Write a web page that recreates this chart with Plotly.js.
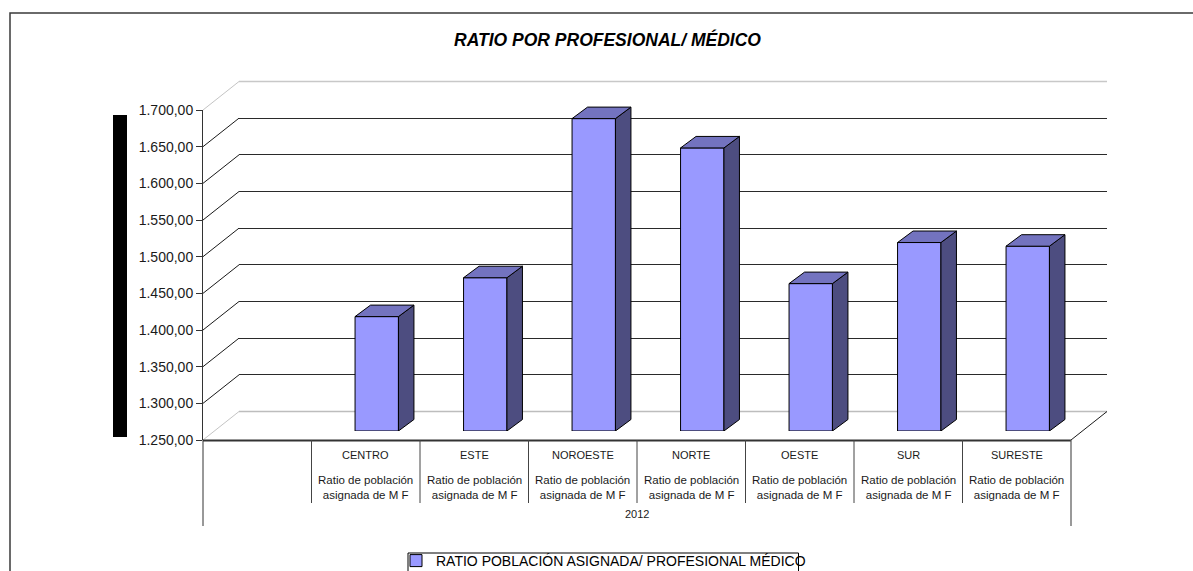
<!DOCTYPE html>
<html>
<head>
<meta charset="utf-8">
<script src="https://cdn.plot.ly/plotly-3.0.1.min.js"></script>
<style>
html,body{margin:0;padding:0;background:#fff;}
#chart{width:1193px;height:571px;}
</style>
</head>
<body>
<div id="chart"></div>
<script>
// ---- data ----
const categories = ['CENTRO', 'ESTE', 'NOROESTE', 'NORTE', 'OESTE', 'SUR', 'SURESTE'];
const ratioValues = [1406, 1459, 1676, 1636, 1451, 1507, 1502];
const subLabel = 'Ratio de población<br>asignada de M F';
const groupLabel = '2012';
const seriesName = 'RATIO POBLACIÓN ASIGNADA/ PROFESIONAL MÉDICO';
const chartTitle = 'RATIO POR PROFESIONAL/ MÉDICO';
const yTicks = [1250, 1300, 1350, 1400, 1450, 1500, 1550, 1600, 1650, 1700];

// ---- geometry (pixels) ----
const W = 1193, H = 571;
const px = x => x / W;
const py = y => 1 - y / H;
const FX0 = 203, FX1 = 1071, FYB = 440, FYT = 110;   // front plane
const DX = 36, DY = 28.5;                            // back wall offset
const BX = 11, BY = 9;                               // bar front-plane offset
const YMIN = 1250, YMAX = 1700;
const nSlots = categories.length + 1;                // first slot is empty
const slotW = (FX1 - FX0) / nSlots;
const unitPx = (FYB - FYT) / (YMAX - YMIN);
const yF = v => FYB - (v - YMIN) * unitPx;           // front plane pixel (decorations)
const barDepthX = 15.5 / slotW;                      // in category units
const barDepthY = 11.5 / unitPx;                     // in value units
const halfW = 0.2;

const xIdx = categories.map((c, i) => i + 1);

// ---- traces ----
const frontBars = {
  type: 'bar', name: seriesName,
  x: xIdx, y: ratioValues.map(v => v - YMIN), base: YMIN,
  width: 2 * halfW,
  xaxis: 'x3', yaxis: 'y3',
  marker: {color: '#9999ff', line: {color: '#000', width: 1}},
  showlegend: true, hoverinfo: 'skip'
};
const sx = [], sy = [], tx = [], ty = [];
xIdx.forEach((c, i) => {
  const v = ratioValues[i];
  const r = c + halfW, l = c - halfW;
  sx.push(r, r + barDepthX, r + barDepthX, r, r, null);
  sy.push(YMIN, YMIN + barDepthY, v + barDepthY, v, YMIN, null);
  tx.push(l, r, r + barDepthX, l + barDepthX, l, null);
  ty.push(v, v, v + barDepthY, v + barDepthY, v, null);
});
const sideFaces = {
  type: 'scatter', mode: 'lines', x: sx, y: sy, fill: 'toself',
  fillcolor: '#4d4d80', line: {color: '#000', width: 1},
  xaxis: 'x3', yaxis: 'y3', showlegend: false, hoverinfo: 'skip'
};
const topFaces = {
  type: 'scatter', mode: 'lines', x: tx, y: ty, fill: 'toself',
  fillcolor: '#7373bf', line: {color: '#000', width: 1},
  xaxis: 'x3', yaxis: 'y3', showlegend: false, hoverinfo: 'skip'
};
const frontAxisHolder = {
  type: 'scatter', mode: 'markers', x: [null], y: [null],
  xaxis: 'x', yaxis: 'y', showlegend: false, hoverinfo: 'skip'
};
const backAxisHolder = {
  type: 'scatter', mode: 'markers', x: [null], y: [null],
  xaxis: 'x2', yaxis: 'y2', showlegend: false, hoverinfo: 'skip'
};

// ---- decorations ----
const shapes = [];
const line = (x0, y0, x1, y1, color, width, layer) => shapes.push({
  type: 'line', xref: 'paper', yref: 'paper', layer: layer || 'below',
  x0: px(x0), y0: py(y0), x1: px(x1), y1: py(y1),
  line: {color: color, width: width || 1}
});
// outer chart border
shapes.push({type: 'rect', xref: 'paper', yref: 'paper', layer: 'below',
  x0: px(10), y0: py(13), x1: px(1210), y1: py(600),
  line: {color: '#3a3a3a', width: 1.5}, fillcolor: 'rgba(0,0,0,0)'});
// black bar at left (axis title block)
shapes.push({type: 'rect', xref: 'paper', yref: 'paper', layer: 'below',
  x0: px(113), y0: py(115), x1: px(127), y1: py(437),
  line: {width: 0}, fillcolor: '#000'});
// legend frame (open at the bottom edge of the picture)
line(408, 553, 798.5, 553, '#000', 1, 'above');
line(408, 553, 408, 575, '#000', 1, 'above');
line(798.5, 553, 798.5, 575, '#000', 1, 'above');
// side wall diagonals
yTicks.forEach(v => {
  const edge = (v === YMIN || v === YMAX);
  line(FX0, yF(v), FX0 + DX, yF(v) - DY, edge ? '#c4c4c4' : '#1a1a1a', 1);
});
// back wall edge lines (top & floor)
line(FX0 + DX, yF(YMAX) - DY, FX1 + DX, yF(YMAX) - DY, '#c8c8c8', 1.5);
line(FX0 + DX, yF(YMIN) - DY, FX1 + DX, yF(YMIN) - DY, '#bdbdbd', 1.5);
// floor front edge and right diagonal
line(FX0, FYB + 0.5, FX1, FYB + 0.5, '#333', 2);
line(FX1, FYB, FX1 + DX, FYB - DY, '#1a1a1a', 1);
// table lines
line(FX0, FYB, FX0, 526, '#333', 1);
line(FX1, FYB, FX1, 526, '#555', 1.2);
for (let k = 1; k < nSlots; k++) {
  line(FX0 + k * slotW, FYB, FX0 + k * slotW, 503, '#444', 1);
}

// ---- annotations ----
const annotations = [];
const font = {family: 'Liberation Sans, Arial, sans-serif', color: '#1a1a1a'};
categories.forEach((c, i) => {
  annotations.push({xref: 'x', yref: 'paper', x: xIdx[i], y: py(455),
    text: c, showarrow: false, xanchor: 'center', yanchor: 'middle',
    font: Object.assign({size: 11}, font)});
  annotations.push({xref: 'x', yref: 'paper', x: xIdx[i], y: py(487),
    text: subLabel, showarrow: false, xanchor: 'center', yanchor: 'middle',
    font: Object.assign({size: 11.5}, font)});
});
annotations.push({xref: 'x', yref: 'paper', x: (nSlots - 1) / 2, y: py(513.5),
  text: groupLabel, showarrow: false, xanchor: 'center', yanchor: 'middle',
  font: Object.assign({size: 11}, font)});

const layout = {
  width: W, height: H,
  margin: {l: 0, r: 0, t: 0, b: 0, pad: 0, autoexpand: false},
  paper_bgcolor: '#fff', plot_bgcolor: 'rgba(0,0,0,0)',
  separators: ',.',
  font: {family: 'Liberation Sans, Arial, sans-serif', color: '#1a1a1a'},
  title: {text: '<b><i>' + chartTitle + '</i></b>', x: px(607.5), y: py(39.5),
    xref: 'container', yref: 'container', xanchor: 'center', yanchor: 'middle',
    font: {size: 17.5, family: 'Liberation Sans, Arial, sans-serif', color: '#000'}},
  showlegend: true,
  legend: {x: px(396), y: py(545), xanchor: 'left', yanchor: 'top',
    orientation: 'h', borderwidth: 0, bgcolor: 'rgba(255,255,255,0)',
    font: {size: 14, family: 'Liberation Sans, Arial, sans-serif', color: '#000'}},
  xaxis: {domain: [px(FX0), px(FX1)], range: [-0.5, nSlots - 0.5], anchor: 'y',
    showticklabels: false, ticks: '', showline: false, showgrid: false, zeroline: false, fixedrange: true},
  yaxis: {domain: [py(FYB), py(FYT)], range: [YMIN, YMAX], anchor: 'x',
    tickvals: yTicks, tickformat: ',.2f', ticks: 'outside', ticklen: 6, tickcolor: '#333',
    showline: true, linecolor: '#333', linewidth: 1, showgrid: false, zeroline: false,
    tickfont: {size: 14, family: 'Liberation Sans, Arial, sans-serif', color: '#1a1a1a'}, fixedrange: true},
  xaxis2: {domain: [px(FX0 + DX), px(FX1 + DX)], range: [-0.5, nSlots - 0.5], anchor: 'y2',
    visible: false, fixedrange: true},
  yaxis2: {domain: [py(FYB - DY), py(FYT - DY)], range: [YMIN, YMAX], anchor: 'x2',
    tickvals: yTicks.slice(1, -1), showticklabels: false, ticks: '', showline: false,
    showgrid: true, gridcolor: '#2a2a2a', gridwidth: 1, zeroline: false, fixedrange: true},
  xaxis3: {domain: [px(FX0 + BX), px(FX1 + BX)], range: [-0.5, nSlots - 0.5], anchor: 'y3',
    visible: false, fixedrange: true},
  yaxis3: {domain: [py(FYB - BY), py(FYT - BY)], range: [YMIN, YMAX], anchor: 'x3',
    visible: false, fixedrange: true},
  shapes: shapes,
  annotations: annotations
};

Plotly.newPlot('chart', [frontAxisHolder, backAxisHolder, frontBars, sideFaces, topFaces], layout,
  {displayModeBar: false, staticPlot: true});
</script>
</body>
</html>
